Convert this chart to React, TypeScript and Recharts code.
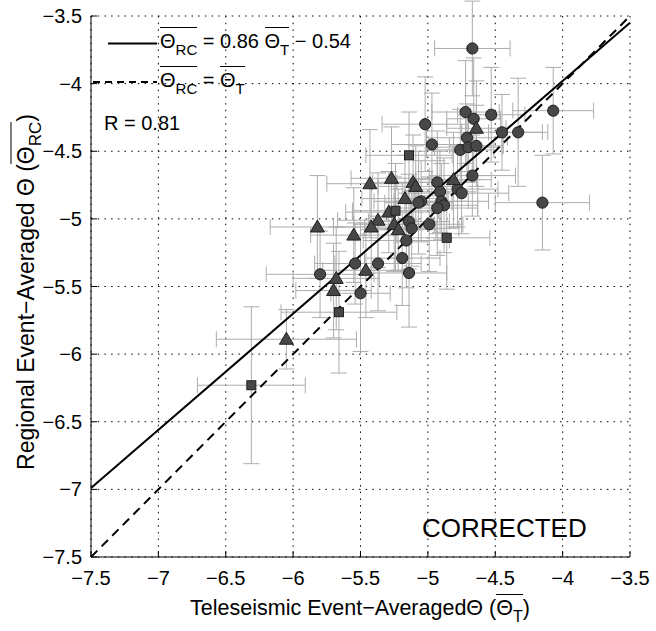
import {
  ScatterChart, Scatter, XAxis, YAxis, CartesianGrid, ErrorBar, ReferenceLine,
} from 'recharts';

// [x (teleseismic), y (regional), x error, y error]
const CIRCLES: [number, number, number, number][] = [
  [-4.67, -3.74, 0.28, 0.35], [-4.72, -4.21, 0.25, 0.38], [-4.66, -4.26, 0.2, 0.45],
  [-4.53, -4.23, 0.25, 0.35], [-4.45, -4.36, 0.3, 0.28], [-4.33, -4.36, 0.22, 0.4],
  [-4.07, -4.2, 0.3, 0.32], [-4.71, -4.4, 0.3, 0.25], [-4.76, -4.49, 0.25, 0.3],
  [-4.7, -4.47, 0.25, 0.25], [-4.64, -4.46, 0.2, 0.3], [-5.02, -4.3, 0.32, 0.35],
  [-4.97, -4.45, 0.3, 0.38], [-4.67, -4.68, 0.32, 0.3], [-4.15, -4.88, 0.35, 0.35],
  [-4.93, -4.73, 0.3, 0.38], [-4.91, -4.8, 0.28, 0.3], [-4.9, -4.87, 0.35, 0.28],
  [-4.88, -4.9, 0.25, 0.35], [-4.93, -4.92, 0.3, 0.35], [-5.05, -4.87, 0.35, 0.3],
  [-5.07, -4.88, 0.25, 0.38], [-4.78, -4.78, 0.3, 0.28], [-4.75, -4.81, 0.35, 0.3],
  [-5.14, -5.02, 0.3, 0.35], [-5.12, -5.07, 0.35, 0.28], [-4.99, -5.04, 0.25, 0.35],
  [-5.16, -5.16, 0.32, 0.35], [-5.19, -5.29, 0.28, 0.35], [-5.37, -5.33, 0.32, 0.35],
  [-5.54, -5.33, 0.3, 0.3], [-5.14, -5.4, 0.28, 0.4], [-5.8, -5.41, 0.4, 0.32],
  [-5.5, -5.55, 0.22, 0.43],
];

const TRIANGLES: [number, number, number, number][] = [
  [-4.64, -4.33, 0.22, 0.35], [-5.27, -4.7, 0.3, 0.38], [-5.43, -4.74, 0.32, 0.4],
  [-5.11, -4.73, 0.3, 0.35], [-5.09, -4.76, 0.28, 0.3], [-5.17, -4.85, 0.32, 0.32],
  [-4.81, -4.71, 0.28, 0.35], [-5.29, -4.95, 0.32, 0.3], [-5.37, -5.01, 0.3, 0.35],
  [-5.42, -5.06, 0.28, 0.32], [-5.82, -5.06, 0.35, 0.38], [-5.55, -5.12, 0.32, 0.35],
  [-5.25, -5.04, 0.3, 0.35], [-5.22, -5.08, 0.28, 0.3], [-5.46, -5.38, 0.32, 0.35],
  [-5.68, -5.44, 0.32, 0.38], [-5.7, -5.53, 0.28, 0.35], [-6.05, -5.89, 0.52, 0.22],
];

const SQUARES: [number, number, number, number][] = [
  [-5.14, -4.53, 0.32, 0.32], [-5.24, -4.94, 0.32, 0.35], [-4.86, -5.14, 0.32, 0.38],
  [-5.66, -5.69, 0.43, 0.45], [-6.31, -6.23, 0.4, 0.58],
];

const TICKS = [-7.5, -7, -6.5, -6, -5.5, -5, -4.5, -4, -3.5];
const DOMAIN: [number, number] = [-7.5, -3.5];
const SLOPE = 0.86;
const INTERCEPT = -0.54;

const toRows = (arr: [number, number, number, number][]) =>
  arr.map(([x, y, ex, ey]) => ({ x, y, ex, ey }));

const circles = toRows(CIRCLES);
const triangles = toRows(TRIANGLES);
const squares = toRows(SQUARES);
const allPoints = [...circles, ...triangles, ...squares];

const FONT = '"Liberation Sans", Arial, Helvetica, sans-serif';
const fmt = (v: number) => String(v).replace('-', '\u2212');
const tickStyle = { fill: '#000', fontSize: 20, fontFamily: FONT };

const MARK_FILL = '#474747';
const MARK_EDGE = '#1e1e1e';

const CircleMark = (p: any) => (
  <circle cx={p.cx} cy={p.cy} r={5.6} fill={MARK_FILL} stroke={MARK_EDGE} strokeWidth={1} />
);
const TriangleMark = (p: any) => (
  <path
    d={`M${p.cx},${p.cy - 7} L${p.cx + 7},${p.cy + 5} L${p.cx - 7},${p.cy + 5} Z`}
    fill={MARK_FILL} stroke={MARK_EDGE} strokeWidth={1}
  />
);
const SquareMark = (p: any) => (
  <rect x={p.cx - 4.5} y={p.cy - 4.5} width={9} height={9} fill={MARK_FILL} stroke={MARK_EDGE} strokeWidth={1} />
);
const NoMark = () => <g />;

const OverBar = ({ sub, subSize = 15 }: { sub: string; subSize?: number }) => (
  <span style={{ display: 'inline-block', borderTop: '1.5px solid #000', paddingTop: 3, lineHeight: 1 }}>
    Θ<span style={{ fontSize: subSize, position: 'relative', top: 7 }}>{sub}</span>
  </span>
);

export default function App() {
  return (
    <div style={{ position: 'absolute', left: 0, top: 0, width: 656, height: 631, background: '#fff', fontFamily: FONT, color: '#000' }}>
      <ScatterChart width={656} height={631} margin={{ top: 16, right: 26, bottom: 0, left: 0 }}>
        <CartesianGrid stroke="#000" strokeDasharray="1.5 5.2" />
        <XAxis
          type="number" dataKey="x" domain={DOMAIN} ticks={TICKS} allowDataOverflow
          height={74} tickSize={-6} tickMargin={20} tickFormatter={fmt}
          axisLine={{ stroke: '#000' }} tickLine={{ stroke: '#000' }} tick={tickStyle}
        />
        <YAxis
          type="number" dataKey="y" domain={DOMAIN} ticks={TICKS} allowDataOverflow
          width={91} tickSize={-6} tickMargin={15} tickFormatter={fmt}
          axisLine={{ stroke: '#000' }} tickLine={{ stroke: '#000' }} tick={tickStyle}
        />
        <XAxis
          xAxisId="top" orientation="top" type="number" domain={DOMAIN} ticks={TICKS} allowDataOverflow
          height={0} tickSize={-6} tickFormatter={() => ''}
          axisLine={{ stroke: '#000' }} tickLine={{ stroke: '#000' }}
        />
        <YAxis
          yAxisId="right" orientation="right" type="number" domain={DOMAIN} ticks={TICKS} allowDataOverflow
          width={0} tickSize={-6} tickFormatter={() => ''}
          axisLine={{ stroke: '#000' }} tickLine={{ stroke: '#000' }}
        />

        {/* error bars first so every marker sits on top of them */}
        <Scatter data={allPoints} shape={NoMark} isAnimationActive={false}>
          <ErrorBar dataKey="ex" direction="x" width={8} stroke="#adadad" strokeWidth={1} />
          <ErrorBar dataKey="ey" direction="y" width={8} stroke="#adadad" strokeWidth={1} />
        </Scatter>

        <ReferenceLine
          segment={[{ x: DOMAIN[0], y: DOMAIN[0] }, { x: DOMAIN[1], y: DOMAIN[1] }]}
          stroke="#000" strokeWidth={2} strokeDasharray="9 6"
        />
        <ReferenceLine
          segment={[
            { x: DOMAIN[0], y: SLOPE * DOMAIN[0] + INTERCEPT },
            { x: DOMAIN[1], y: SLOPE * DOMAIN[1] + INTERCEPT },
          ]}
          stroke="#000" strokeWidth={2}
        />

        <Scatter data={circles} shape={CircleMark} isAnimationActive={false} />
        <Scatter data={triangles} shape={TriangleMark} isAnimationActive={false} />
        <Scatter data={squares} shape={SquareMark} isAnimationActive={false} />
      </ScatterChart>

      {/* legend samples */}
      <svg width={656} height={631} style={{ position: 'absolute', left: 0, top: 0, pointerEvents: 'none' }}>
        <line x1={108} y1={43.5} x2={157} y2={43.5} stroke="#000" strokeWidth={2} />
        <line x1={93} y1={82} x2={157} y2={82} stroke="#000" strokeWidth={2} strokeDasharray="7 5" />
      </svg>

      <div style={{ position: 'absolute', left: 160, top: 27, fontSize: 20, lineHeight: 1, whiteSpace: 'nowrap' }}>
        <OverBar sub="RC" /> = 0.86 <OverBar sub="T" /> − 0.54
      </div>
      <div style={{ position: 'absolute', left: 160, top: 66, fontSize: 20, lineHeight: 1, whiteSpace: 'nowrap' }}>
        <OverBar sub="RC" /> = <OverBar sub="T" />
      </div>
      <div style={{ position: 'absolute', left: 104, top: 113, fontSize: 20, lineHeight: 1, whiteSpace: 'nowrap' }}>
        R = 0.81
      </div>

      <div style={{ position: 'absolute', left: 422, top: 515, fontSize: 26, lineHeight: 1, whiteSpace: 'nowrap' }}>
        CORRECTED
      </div>

      {/* axis titles */}
      <div style={{ position: 'absolute', left: 360, top: 594, transform: 'translateX(-50%)', fontSize: 21.5, lineHeight: 1, whiteSpace: 'nowrap' }}>
        Teleseismic Event−AveragedΘ (<OverBar sub="T" subSize={16} />)
      </div>
      <div style={{ position: 'absolute', left: 24, top: 292, width: 0, height: 0 }}>
        <div style={{ position: 'absolute', left: 0, top: 0, transform: 'translate(-50%, -50%) rotate(-90deg)', fontSize: 23, lineHeight: 1, whiteSpace: 'nowrap' }}>
          Regional Event−Averaged Θ (<OverBar sub="RC" subSize={17} />)
        </div>
      </div>
    </div>
  );
}
